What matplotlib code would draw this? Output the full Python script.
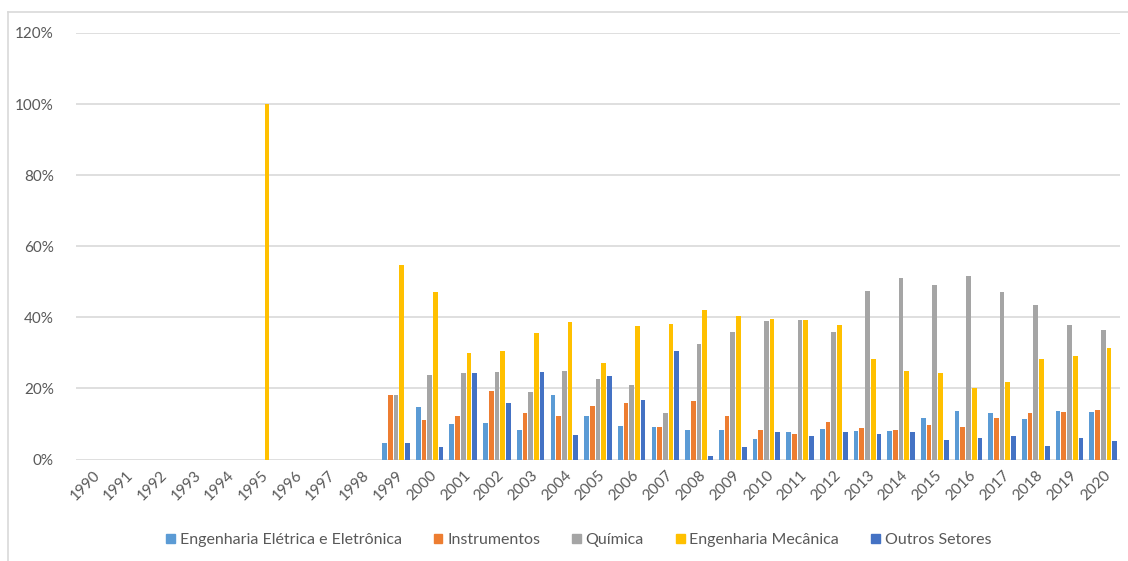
import numpy as np
import matplotlib.pyplot as plt
from matplotlib.lines import Line2D

plt.rcParams['font.family'] = ['Lato', 'DejaVu Sans']

anos = [str(a) for a in range(1990, 2021)]
nan = np.nan

# participação por setor (fração do total), 1990-2020
eletrica = [nan, nan, nan, nan, nan, 0.0, nan, nan, nan,
            0.047, 0.147, 0.100, 0.102, 0.083, 0.181, 0.123, 0.095, 0.092, 0.083,
            0.083, 0.057, 0.078, 0.086, 0.081, 0.080, 0.118, 0.137, 0.131, 0.113,
            0.137, 0.134]
instrumentos = [nan, nan, nan, nan, nan, 0.0, nan, nan, nan,
                0.181, 0.112, 0.121, 0.192, 0.131, 0.121, 0.150, 0.158, 0.092, 0.165,
                0.121, 0.083, 0.073, 0.105, 0.089, 0.083, 0.097, 0.091, 0.118, 0.131,
                0.134, 0.139]
quimica = [nan, nan, nan, nan, nan, 0.0, nan, nan, nan,
           0.181, 0.239, 0.242, 0.247, 0.189, 0.250, 0.227, 0.210, 0.131, 0.326,
           0.360, 0.389, 0.392, 0.358, 0.473, 0.510, 0.490, 0.516, 0.471, 0.434,
           0.379, 0.363]
mecanica = [nan, nan, nan, nan, nan, 1.0, nan, nan, nan,
            0.547, 0.471, 0.300, 0.306, 0.355, 0.386, 0.271, 0.376, 0.382, 0.421,
            0.405, 0.394, 0.392, 0.379, 0.284, 0.250, 0.244, 0.200, 0.218, 0.283,
            0.292, 0.315]
outros = [nan, nan, nan, nan, nan, 0.0, nan, nan, nan,
          0.047, 0.036, 0.242, 0.158, 0.247, 0.069, 0.236, 0.168, 0.304, 0.010,
          0.036, 0.078, 0.065, 0.076, 0.073, 0.078, 0.055, 0.060, 0.066, 0.039,
          0.060, 0.052]

series = [eletrica, instrumentos, quimica, mecanica, outros]
nomes = ['Engenharia Elétrica e Eletrônica', 'Instrumentos', 'Química',
         'Engenharia Mecânica', 'Outros Setores']
cores = ['#5b9bd5', '#ed7d31', '#a5a5a5', '#ffc000', '#4472c4']

fig = plt.figure(figsize=(11.28, 5.61), dpi=100)
ax = fig.add_axes([76/1128, 1 - 459.5/561, (1120 - 76)/1128, (459.5 - 33)/561])

x = np.arange(len(anos))
passo = 0.17
for i, (vals, cor) in enumerate(zip(series, cores)):
    ax.bar(x + (i - 2) * passo, vals, width=0.14, color=cor, zorder=3)

ax.set_xlim(-0.5, len(anos) - 0.5)
ax.set_ylim(0, 1.2)
ax.set_yticks(np.arange(0, 1.21, 0.2))
ax.set_yticklabels([f'{int(round(v*100))}%' for v in np.arange(0, 1.21, 0.2)])
ax.set_xticks(x)
ax.set_xticklabels(anos, rotation=45, ha='right', rotation_mode='anchor')
ax.tick_params(axis='both', length=0, colors='#595959', labelsize=11)
ax.tick_params(axis='y', pad=16)
ax.tick_params(axis='x', pad=6)
ax.grid(axis='y', color='#d9d9d9', linewidth=1.2, zorder=0)
for s in ax.spines.values():
    s.set_visible(False)

# borda da área do gráfico
fig.add_artist(Line2D([7.5/1128, 7.5/1128], [0, 1 - 11.5/561], color='#d9d9d9', lw=1.2))
fig.add_artist(Line2D([7.5/1128, 1], [1 - 11.5/561, 1 - 11.5/561], color='#d9d9d9', lw=1.2))

handles = [plt.Rectangle((0, 0), 1, 1, color=c) for c in cores]
fig.legend(handles, nomes, loc='center', bbox_to_anchor=(0.513, 1 - 540/561),
           ncol=5, frameon=False, fontsize=11.5, handlelength=0.55, handleheight=0.55,
           handletextpad=0.3, columnspacing=2.0, labelcolor='#595959')

fig.savefig('out.png', dpi=100)
